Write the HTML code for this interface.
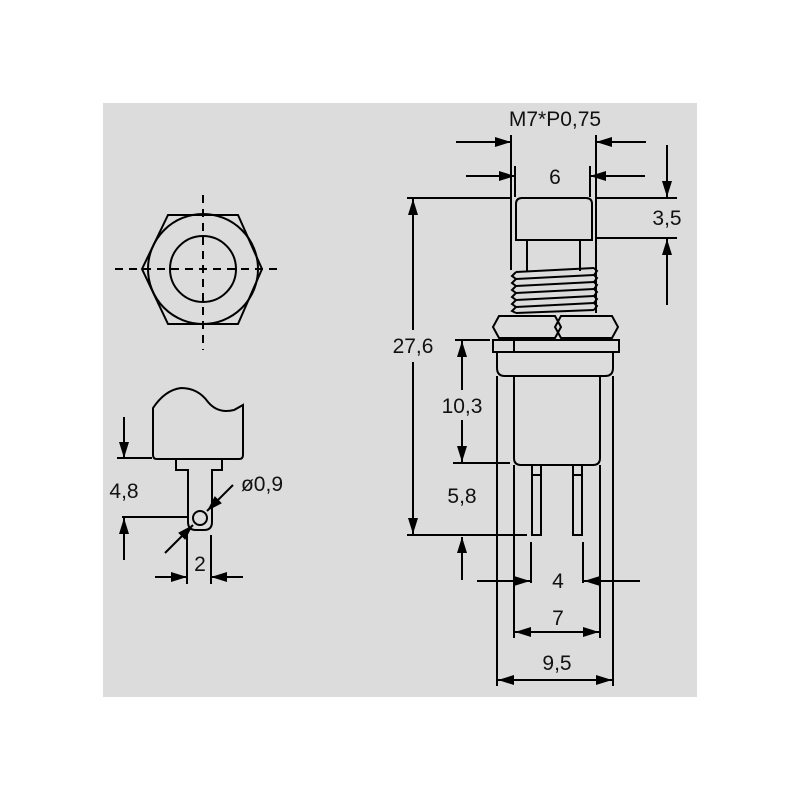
<!DOCTYPE html>
<html><head><meta charset="utf-8"><style>
html,body{margin:0;padding:0;background:#fff;}
svg{display:block}
text{font-family:"Liberation Sans",sans-serif;font-size:21px;fill:#111;text-anchor:middle}
</style></head><body>
<svg width="800" height="800" viewBox="0 0 800 800" xmlns="http://www.w3.org/2000/svg">
<defs>
<marker id="a" viewBox="0 0 16 10" refX="16" refY="5" markerWidth="17" markerHeight="10" markerUnits="userSpaceOnUse" orient="auto"><path d="M0,0 L16,5 L0,10 z" fill="#000"/></marker>
</defs>
<rect x="103" y="103" width="594" height="594" fill="#dcdcdc"/>
<g stroke="#000" stroke-width="2" fill="none">
<polygon points="168,215 238,215 262,269 238,324 168,324 142,269"/>
<circle cx="203" cy="269" r="55"/>
<circle cx="203" cy="269" r="33"/>
<line x1="115" y1="269" x2="283" y2="269" stroke-dasharray="8,6"/>
<line x1="203" y1="195" x2="203" y2="350" stroke-dasharray="8,6"/>
<path d="M157,459 Q153,459 153,455 L153,408 Q165,390 181,388 Q198,388 208,402 Q218,414 234,410 L243,405 L243,455 Q243,459 239,459 Z"/>
<path d="M176,459 L176,470 L188,470 L188,522 Q188,530 196,530 L204,530 Q212,530 212,522 L212,470 L222,470 L222,459"/>
<circle cx="200" cy="518" r="7"/>
<line x1="117" y1="458" x2="152" y2="458"/>
<line x1="124" y1="417" x2="124" y2="458" marker-end="url(#a)"/>
<line x1="122" y1="517" x2="188" y2="517"/>
<line x1="124" y1="560" x2="124" y2="518" marker-end="url(#a)"/>
<line x1="165" y1="553" x2="193" y2="525" marker-end="url(#a)"/>
<line x1="233" y1="485" x2="207" y2="511" marker-end="url(#a)"/>
<line x1="187" y1="530" x2="187" y2="584"/>
<line x1="211" y1="535" x2="211" y2="584"/>
<line x1="155" y1="577" x2="187" y2="577" marker-end="url(#a)"/>
<line x1="243" y1="577" x2="211" y2="577" marker-end="url(#a)"/>
<path d="M516,240 L516,204 Q516,198 522,198 L586,198 Q592,198 592,204 L592,240 Z"/>
<line x1="527" y1="240" x2="527" y2="271"/>
<line x1="580" y1="240" x2="580" y2="271"/>
<polyline points="516,272 512,276 516,279 512,283 516,286 512,290 516,293 512,297 516,300 512,304 516,307 512,311 516,313"/>
<polyline points="594,268 597,271 594,275 597,278 594,282 597,285 594,289 597,292 594,296 597,299 594,303 597,306 594,310"/>
<line x1="516" y1="272" x2="594" y2="268"/>
<line x1="516" y1="279" x2="594" y2="275"/>
<line x1="516" y1="286" x2="594" y2="282"/>
<line x1="516" y1="293" x2="594" y2="289"/>
<line x1="516" y1="300" x2="594" y2="296"/>
<line x1="516" y1="307" x2="594" y2="303"/>
<line x1="516" y1="313" x2="594" y2="310"/>
<polygon points="499,316 555,316 561,327 555,338 499,338 493,327"/>
<polygon points="561,316 612,316 618,327 612,338 561,338 555,327"/>
<rect x="493" y="340" width="126" height="12"/>
<line x1="514" y1="340" x2="514" y2="352"/>
<path d="M497,352 L497,368 Q497,376 505,376 L605,376 Q613,376 613,368 L613,352"/>
<path d="M514,376 L514,458 Q514,465 521,465 L593,465 Q600,465 600,458 L600,376"/>
<rect x="532" y="465" width="9" height="70"/>
<rect x="573" y="465" width="9" height="70"/>
<line x1="532" y1="475" x2="541" y2="475"/>
<line x1="573" y1="475" x2="582" y2="475"/>
<line x1="497" y1="376" x2="497" y2="686"/>
<line x1="613" y1="376" x2="613" y2="686"/>
<line x1="514" y1="465" x2="514" y2="638"/>
<line x1="600" y1="465" x2="600" y2="638"/>
<line x1="511" y1="135" x2="511" y2="270"/>
<line x1="596" y1="135" x2="596" y2="313"/>
<line x1="456" y1="142" x2="511" y2="142" marker-end="url(#a)"/>
<line x1="646" y1="142" x2="596" y2="142" marker-end="url(#a)"/>
<line x1="515" y1="166" x2="515" y2="197"/>
<line x1="590" y1="166" x2="590" y2="197"/>
<line x1="466" y1="176" x2="515" y2="176" marker-end="url(#a)"/>
<line x1="645" y1="176" x2="590" y2="176" marker-end="url(#a)"/>
<line x1="407" y1="198" x2="512" y2="198"/>
<line x1="596" y1="198" x2="677" y2="198"/>
<line x1="596" y1="238" x2="677" y2="238"/>
<line x1="667" y1="145" x2="667" y2="197" marker-end="url(#a)"/>
<line x1="667" y1="305" x2="667" y2="239" marker-end="url(#a)"/>
<line x1="413" y1="330" x2="413" y2="199" marker-end="url(#a)"/>
<line x1="413" y1="362" x2="413" y2="534" marker-end="url(#a)"/>
<line x1="407" y1="535" x2="527" y2="535"/>
<line x1="455" y1="340" x2="490" y2="340"/>
<line x1="462" y1="390" x2="462" y2="341" marker-end="url(#a)"/>
<line x1="462" y1="420" x2="462" y2="462" marker-end="url(#a)"/>
<line x1="453" y1="463" x2="510" y2="463"/>
<line x1="462" y1="580" x2="462" y2="537" marker-end="url(#a)"/>
<line x1="531" y1="542" x2="531" y2="583"/>
<line x1="583" y1="542" x2="583" y2="583"/>
<line x1="477" y1="581" x2="530" y2="581" marker-end="url(#a)"/>
<line x1="640" y1="581" x2="584" y2="581" marker-end="url(#a)"/>
<line x1="557" y1="632" x2="515" y2="632" marker-end="url(#a)"/>
<line x1="557" y1="632" x2="599" y2="632" marker-end="url(#a)"/>
<line x1="555" y1="680" x2="498" y2="680" marker-end="url(#a)"/>
<line x1="555" y1="680" x2="612" y2="680" marker-end="url(#a)"/>
</g>
<text x="555" y="126">M7*P0,75</text>
<text x="555" y="184">6</text>
<text x="667" y="225">3,5</text>
<text x="413" y="353">27,6</text>
<text x="462" y="413">10,3</text>
<text x="462" y="503">5,8</text>
<text x="558" y="588">4</text>
<text x="558" y="625">7</text>
<text x="557" y="670">9,5</text>
<text x="124" y="498">4,8</text>
<text x="262" y="491">ø0,9</text>
<text x="200" y="571">2</text>
</svg>
</body></html>
